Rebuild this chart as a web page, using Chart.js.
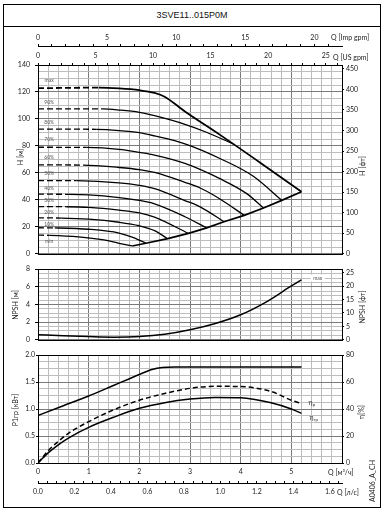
<!DOCTYPE html>
<html>
<head>
<meta charset="utf-8">
<script src="https://cdn.jsdelivr.net/npm/chart.js@4.4.1/dist/chart.umd.min.js"></script>
<style>
body { margin: 0; background: #fff; }
#wrap { position: relative; width: 389px; height: 513px; overflow: hidden; font-family: Lato, 'Liberation Sans', sans-serif; color: #222; background: #fff; }
#frame { position: absolute; left: 3px; top: 4px; width: 378px; height: 504px; border: 1px solid #000; box-sizing: border-box; }
#title { position: absolute; left: 3px; top: 4px; width: 378px; height: 23px; border-bottom: 1px solid #000; box-sizing: border-box; text-align: center; line-height: 22px; font-family: 'Liberation Sans', Arial, sans-serif; font-size: 9px; color: #111; }
canvas { position: absolute; left: 0; }
.t { position: absolute; font-size: 7px; white-space: nowrap; line-height: 1; }
.l { transform: translateY(-50%); }
.r { transform: translate(-50%, -50%) rotate(-90deg); }
</style>
</head>
<body>
<div id="wrap">
  <div id="frame"></div>
  <div id="title">3SVE11..015P0M</div>
  <canvas id="cH" width="389" height="237" style="top:26px"></canvas>
  <canvas id="cN" width="389" height="89" style="top:260px"></canvas>
  <canvas id="cP" width="389" height="161" style="top:346px"></canvas>

  <div class="t l" style="left:331px;top:37px">Q [Imp gpm]</div>
  <div class="t l" style="left:333px;top:57px">Q [US gpm]</div>
  <div class="t l" style="left:328px;top:472px">Q [м³/ч]</div>
  <div class="t l" style="left:337px;top:492px">Q [л/с]</div>

  <div class="t r" style="left:20px;top:157px">H [м]</div>
  <div class="t r" style="left:15px;top:305px">NPSH [м]</div>
  <div class="t r" style="left:15px;top:410px">P1гр [кВт]</div>
  <div class="t r" style="left:362px;top:166px">H [фт]</div>
  <div class="t r" style="left:362px;top:307px">NPSH [фт]</div>
  <div class="t r" style="left:361px;top:412px">η[%]</div>
  <div class="t r" style="left:372px;top:481px">A0406_A_CH</div>
</div>

<script>
// ---- data (Q in m3/h) ----
const Q_END = 6;
const M3H_TO_IMP = 1000 / 4.54609 / 60;
const M3H_TO_US = 1000 / 3.785412 / 60;
const M3H_TO_LS = 1 / 3.6;
const M_TO_FT = 3.28084;

const speedNames = ['max', '90%', '80%', '70%', '60%', '50%', '40%', '30%', '20%', '10%', 'min'];

// H [m] curves, [Q, H]
const curveMax = [[0,122.8],[1.2,123.2],[1.6,122.6],[2.0,121.3],[2.3,119.3],[2.5,116.5],[2.9,105.5],[3.6,88],[4.4,67.2],[5.2,46]];
const curve90  = [[0,107.5],[1.28,107.4],[1.6,106.6],[2.0,104.9],[2.3,102.4],[2.9,96],[3.3,90.5],[3.85,81.5]];
const curve80  = [[0,92.5],[1.15,92.3],[1.6,91.4],[2.0,89.8],[2.3,87.4],[2.9,81.5],[3.6,70.5],[4.25,57.5],[4.81,39.6]];
const curve70  = [[0,79],[0.95,78.9],[1.6,77.5],[2.0,75.2],[2.3,73.2],[2.9,67],[3.6,55.5],[4.12,44.6],[4.45,34]];
const curve60  = [[0,65.9],[0.89,65.8],[1.6,64],[2.0,62.4],[2.3,60.3],[2.9,53],[3.2,48.8],[3.6,40.5],[4.07,28.5]];
const curve50  = [[0,54.3],[0.76,54.2],[1.6,52.6],[2.0,50.7],[2.3,48.3],[2.9,39.5],[3.2,34.8],[3.67,23.8]];
const curve40  = [[0,44.2],[0.63,44.1],[1.0,43.7],[1.6,41.7],[2.0,39.6],[2.3,37],[2.9,27.5],[3.33,19.2]];
const curve30  = [[0,35],[0.56,34.9],[1.0,34.4],[1.6,32.4],[2.0,30.4],[2.3,27.2],[2.97,15.1]];
const curve20  = [[0,26.6],[0.46,26.5],[1.0,25.7],[1.6,23.4],[2.0,20.8],[2.3,17.2],[2.56,11.2]];
const curve10  = [[0,19.3],[0.33,19.2],[1.0,18.2],[1.6,15.4],[1.9,11.8],[2.13,7.8]];
const curveMin = [[0,13.8],[0.23,13.7],[0.8,12.6],[1.3,10.3],[1.6,7.8],[1.86,5.8]];
// Q where the dashed start of each curve ends
const dashEndQ = [1.2, 1.28, 1.15, 0.95, 0.89, 0.76, 0.63, 0.56, 0.46, 0.33, 0.23];
// line joining the curve ends
const curveEnds = [[1.86,5.8],[2.13,7.8],[2.56,11.2],[2.97,15.1],[3.33,19.2],[3.67,23.8],[4.07,28.5],[4.45,34],[4.81,39.6],[5.2,46]];

// NPSH [m]
const npshMax = [[0,0.58],[0.5,0.45],[1.0,0.36],[1.5,0.3],[2.0,0.36],[2.5,0.62],[3.0,1.13],[3.5,1.85],[4.0,2.84],[4.5,4.28],[5.0,6.1],[5.2,6.8]];

// P1 [kW] and efficiencies [%]
const p1Curve  = [[0,0.88],[0.5,1.06],[1.0,1.24],[1.5,1.44],[2.0,1.64],[2.25,1.73],[2.45,1.77],[2.7,1.78],[5.2,1.78]];
const etaPump  = [[0,0],[0.2,9],[0.4,16],[0.6,22],[1.0,30.6],[1.5,39.5],[2.0,46.5],[2.5,51.5],[3.0,55.3],[3.5,56.8],[4.0,56.6],[4.6,53],[5.0,46.5],[5.2,44]];
const etaGroup = [[0,0],[0.2,7.5],[0.4,13.5],[0.6,18.5],[1.0,26.4],[1.5,34],[2.0,40.5],[2.5,44.7],[3.0,47.4],[3.5,48.6],[4.0,48.4],[4.6,44.6],[5.0,40],[5.2,36.8]];

const speedCurves = [curveMax, curve90, curve80, curve70, curve60, curve50, curve40, curve30, curve20, curve10, curveMin];

// ---- helpers ----
Chart.defaults.font.family = "Lato, 'Liberation Sans', sans-serif";
Chart.defaults.font.size = 7;
Chart.defaults.color = '#222';

const GRID_MAJOR = '#7a7a7a';
const GRID_MINOR = '#bdbdbd';

const isMult = (v, step) => Math.abs(v / step - Math.round(v / step)) < 1e-6;
const keepMultiples = step => s => { s.ticks = s.ticks.filter(t => isMult(t.value, step)); };
const pts = arr => arr.map(([x, y]) => ({ x, y }));

const framePlugin = {
  id: 'frame',
  beforeDatasetsDraw(chart) {
    const { ctx, chartArea: a } = chart;
    ctx.save();
    ctx.strokeStyle = '#000';
    ctx.lineWidth = 1;
    ctx.strokeRect(Math.round(a.left) + 0.5, Math.round(a.top) + 0.5,
      Math.round(a.right) - Math.round(a.left), Math.round(a.bottom) - Math.round(a.top));
    ctx.restore();
  }
};

function qAxis(extra) {
  return Object.assign({
    type: 'linear', position: 'bottom', min: 0, max: Q_END,
    ticks: { display: false, stepSize: 0.2, autoSkip: false, maxRotation: 0 },
    grid: { drawTicks: false, color: c => isMult(c.tick.value, 1) ? GRID_MAJOR : GRID_MINOR },
    border: { display: false }
  }, extra);
}

function sideAxis(pos, min, max, step, width) {
  return {
    type: 'linear', position: pos, min, max,
    afterBuildTicks: keepMultiples(step),
    ticks: { stepSize: step, autoSkip: false, includeBounds: false, padding: 2 },
    grid: { drawOnChartArea: false, tickLength: 2, color: '#000' },
    border: { display: false },
    afterFit: s => { s.width = width; }
  };
}

function topAxis(max, weight, height, pad, withBorder) {
  return {
    type: 'linear', position: 'top', weight, min: 0, max,
    afterBuildTicks: keepMultiples(1),
    ticks: { stepSize: 1, autoSkip: false, includeBounds: false, maxRotation: 0, padding: pad,
      callback: v => isMult(v, 5) ? v : '' },
    grid: { drawOnChartArea: false, tickLength: 2, color: '#000' },
    border: { display: withBorder, color: '#000', width: 1 },
    afterFit: s => { s.height = height; }
  };
}

function leftAxis(max, step, major, pad, tl, cb) {
  return {
    type: 'linear', position: 'left', min: 0, max,
    ticks: { stepSize: step, autoSkip: false, padding: pad, callback: v => isMult(v, major) ? cb(v) : '' },
    grid: {
      tickLength: tl,
      color: c => isMult(c.tick.value, major) ? GRID_MAJOR : GRID_MINOR,
      tickColor: c => isMult(c.tick.value, major) ? '#000' : 'rgba(0,0,0,0)'
    },
    border: { display: false },
    afterFit: s => { s.width = 38; }
  };
}

const lineDs = (data, extra) => Object.assign({
  data: pts(data), showLine: true, borderColor: '#000', borderWidth: 1.4,
  pointRadius: 0, cubicInterpolationMode: 'monotone', fill: false
}, extra);

const baseOpts = {
  responsive: false, animation: false, events: [],
  plugins: { legend: { display: false }, tooltip: { enabled: false } }
};

// ---- H chart ----
const hDatasets = speedCurves.map((c, i) => lineDs(c, {
  borderWidth: i === 0 ? 1.8 : 1.3,
  segment: { borderDash: s => s.p1.parsed.x <= dashEndQ[i] + 1e-9 ? [6, 3] : undefined }
}));
hDatasets.push(lineDs(curveEnds, { borderWidth: 1.7, cubicInterpolationMode: 'default', tension: 0 }));

const labelLift = [7.5, 6.5, 7, 7.5, 8, 7.5, 6, 6.5, 5.5, 3, -6.5];
const speedLabelPlugin = {
  id: 'speedLabels',
  afterDatasetsDraw(chart) {
    const { ctx, scales: { x, y } } = chart;
    ctx.save();
    ctx.font = "5px Lato, 'Liberation Sans', sans-serif";
    ctx.fillStyle = '#555';
    ctx.textAlign = 'center';
    ctx.textBaseline = 'middle';
    speedCurves.forEach((c, i) => {
      ctx.fillText(speedNames[i], x.getPixelForValue(0.22), y.getPixelForValue(c[0][1]) - labelLift[i]);
    });
    ctx.restore();
  }
};

new Chart(document.getElementById('cH'), {
  type: 'scatter',
  data: { datasets: hDatasets },
  options: Object.assign({}, baseOpts, {
    scales: {
      x: qAxis({ afterFit: s => { s.height = 5; } }),
      xUs: topAxis(Q_END * M3H_TO_US, 1, 19, 3, false),
      xImp: topAxis(Q_END * M3H_TO_IMP, 2, 20, 2, true),
      y: leftAxis(140, 5, 20, 5, 3, v => v),
      yFt: sideAxis('right', 0, 140 * M_TO_FT, 50, 47)
    }
  }),
  plugins: [framePlugin, speedLabelPlugin]
});

// ---- NPSH chart ----
const npshLabelPlugin = {
  id: 'npshLabel',
  afterDatasetsDraw(chart) {
    const { ctx, scales: { x, y } } = chart;
    const px = x.getPixelForValue(5.52), py = y.getPixelForValue(7.0);
    ctx.save();
    ctx.fillStyle = '#fff';
    ctx.fillRect(px - 7, py - 3.5, 14, 7);
    ctx.font = "5px Lato, 'Liberation Sans', sans-serif";
    ctx.fillStyle = '#555';
    ctx.textAlign = 'center';
    ctx.textBaseline = 'middle';
    ctx.fillText('max', px, py);
    ctx.restore();
  }
};

new Chart(document.getElementById('cN'), {
  type: 'scatter',
  data: { datasets: [lineDs(npshMax, { borderWidth: 1.5 })] },
  options: Object.assign({}, baseOpts, {
    layout: { padding: { top: 9 } },
    scales: {
      x: qAxis({ afterFit: s => { s.height = 6; } }),
      y: leftAxis(8, 0.5, 2, 5, 3, v => v),
      yFt: sideAxis('right', 0, 8 * M_TO_FT, 5, 47)
    }
  }),
  plugins: [framePlugin, npshLabelPlugin]
});

// ---- P1 / efficiency chart ----
const etaLabelPlugin = {
  id: 'etaLabels',
  afterDatasetsDraw(chart) {
    const { ctx, scales: { x, yEta } } = chart;
    const draw = (sub, q, e) => {
      const px = x.getPixelForValue(q), py = yEta.getPixelForValue(e);
      ctx.font = "7px Lato, 'Liberation Sans', sans-serif";
      ctx.fillText('η', px, py);
      const w = ctx.measureText('η').width;
      ctx.font = "4.5px Lato, 'Liberation Sans', sans-serif";
      ctx.fillText(sub, px + w, py + 2);
    };
    ctx.save();
    ctx.fillStyle = '#333';
    ctx.textAlign = 'left';
    ctx.textBaseline = 'middle';
    draw('р', 5.34, 44.6);
    draw('гр', 5.36, 33.8);
    ctx.restore();
  }
};

new Chart(document.getElementById('cP'), {
  type: 'scatter',
  data: {
    datasets: [
      lineDs(p1Curve, { borderWidth: 1.5 }),
      lineDs(etaPump, { yAxisID: 'yEta', borderWidth: 1.5, borderDash: [5, 3] }),
      lineDs(etaGroup, { yAxisID: 'yEta', borderWidth: 1.5 })
    ]
  },
  options: Object.assign({}, baseOpts, {
    layout: { padding: { top: 9 } },
    scales: {
      x: qAxis({
        weight: 0,
        ticks: { display: true, stepSize: 0.2, autoSkip: false, maxRotation: 0, padding: 5,
          callback: v => (isMult(v, 1) && v < Q_END) ? v : '' },
        afterFit: s => { s.height = 20; }
      }),
      xLs: {
        type: 'linear', position: 'bottom', weight: 1, min: 0, max: Q_END * M3H_TO_LS,
        afterBuildTicks: keepMultiples(0.05),
        ticks: { stepSize: 0.05, autoSkip: false, includeBounds: false, maxRotation: 0, padding: 7,
          callback: v => isMult(v, 0.2) ? v.toFixed(1) : '' },
        grid: { drawOnChartArea: false, tickLength: -2, color: '#000' },
        border: { display: true, color: '#000', width: 1 },
        afterFit: s => { s.height = 24; }
      },
      y: leftAxis(2, 0.125, 0.5, 1, 2, v => v.toFixed(1)),
      yEta: sideAxis('right', 0, 80, 20, 47)
    }
  }),
  plugins: [framePlugin, etaLabelPlugin]
});
</script>
</body>
</html>
